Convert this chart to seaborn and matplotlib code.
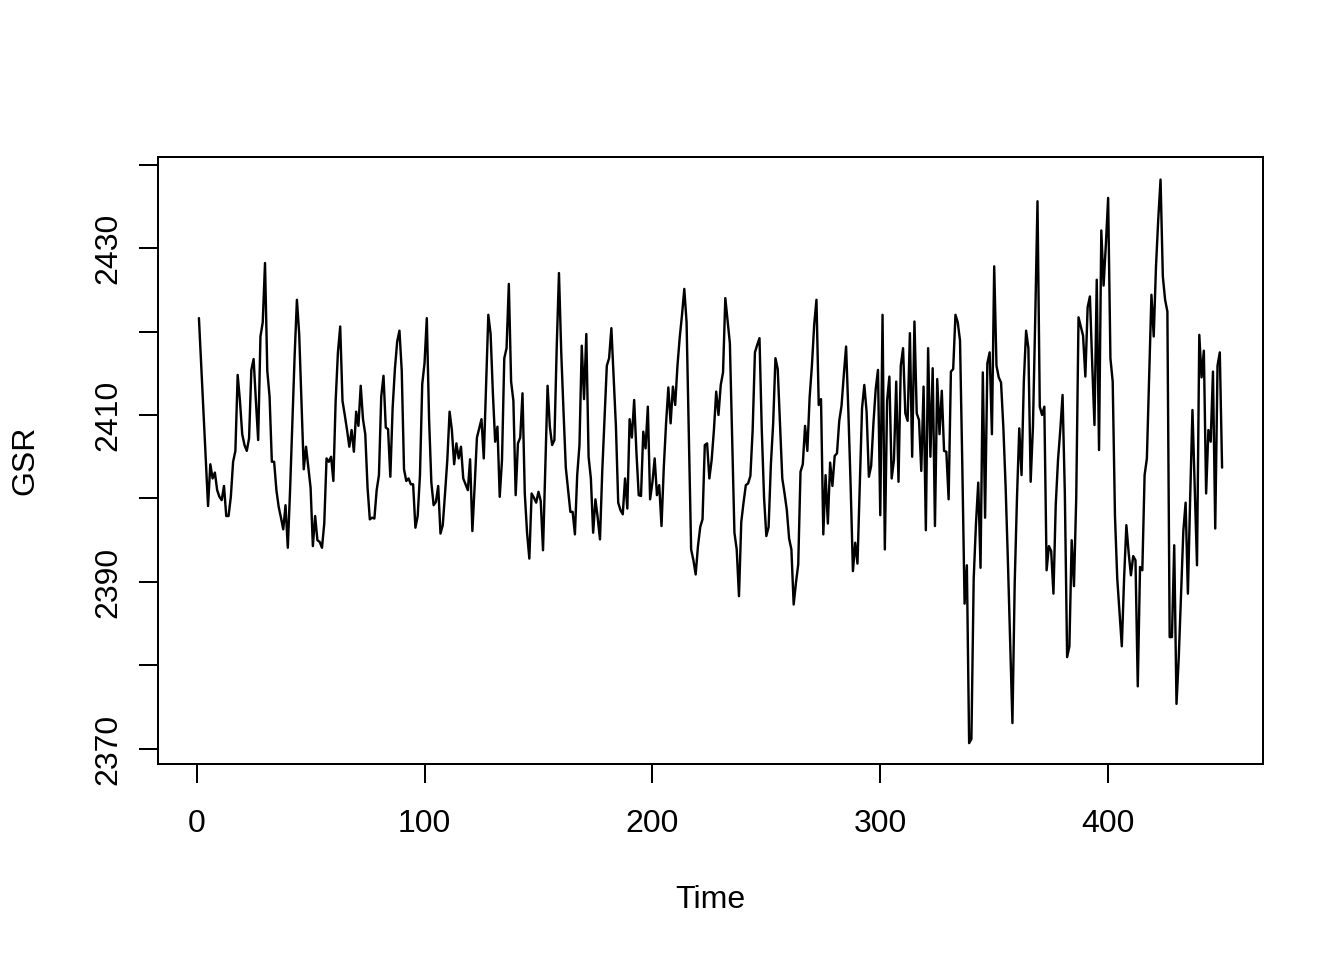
import numpy as np
import pandas as pd
import matplotlib
matplotlib.use("Agg")
import matplotlib.pyplot as plt
import seaborn as sns

# GSR readings, one per time step (t = 1..450)
gsr_1_75 = [
    2421.6, 2416.0, 2410.5, 2405.0, 2399.1, 2404.1, 2402.4, 2403.1, 2401.0, 2400.2,
    2399.8, 2401.5, 2397.9, 2397.9, 2400.2, 2404.4, 2405.7, 2414.8, 2411.7, 2407.7,
    2406.4, 2405.7, 2407.2, 2415.4, 2416.7, 2411.7, 2407.0, 2419.4, 2421.1, 2428.2,
    2415.3, 2412.2, 2404.4, 2404.4, 2401.0, 2399.0, 2397.7, 2396.3, 2399.2, 2394.1,
    2401.0, 2409.0, 2417.1, 2423.8, 2419.7, 2411.7, 2403.5, 2406.2, 2403.7, 2401.3,
    2394.3, 2397.9, 2395.0, 2394.8, 2394.1, 2397.0, 2404.8, 2404.4, 2405.0, 2402.1,
    2411.7, 2417.5, 2420.6, 2411.7, 2410.0, 2408.2, 2406.2, 2408.2, 2405.6, 2410.4,
    2408.7, 2413.5, 2409.5, 2407.7, 2401.3,
]
gsr_76_150 = [
    2397.5, 2397.7, 2397.6, 2401.0, 2402.8, 2412.2, 2414.7, 2408.5, 2408.3, 2402.6,
    2410.8, 2415.5, 2418.8, 2420.1, 2415.3, 2403.5, 2402.1, 2402.4, 2401.7, 2401.7,
    2396.5, 2397.9, 2402.8, 2413.7, 2416.2, 2421.6, 2409.5, 2401.9, 2399.2, 2399.6,
    2401.5, 2395.8, 2396.8, 2400.6, 2404.6, 2410.4, 2408.2, 2404.1, 2406.6, 2404.8,
    2406.2, 2402.4, 2401.7, 2401.0, 2404.7, 2396.1, 2401.5, 2407.3, 2408.4, 2409.5,
    2404.8, 2413.5, 2422.0, 2419.7, 2412.6, 2406.8, 2408.6, 2400.2, 2404.6, 2416.8,
    2418.0, 2425.7, 2414.0, 2411.7, 2400.4, 2406.6, 2407.3, 2412.6, 2400.6, 2395.9,
    2392.8, 2400.6, 2400.1, 2399.5, 2400.8,
]
gsr_151_225 = [
    2399.7, 2393.8, 2403.7, 2413.5, 2408.6, 2406.4, 2407.0, 2418.0, 2427.0, 2417.5,
    2410.4, 2403.7, 2401.0, 2398.4, 2398.4, 2395.7, 2402.8, 2406.4, 2418.3, 2411.9,
    2419.7, 2405.0, 2402.4, 2395.9, 2399.9, 2397.7, 2395.1, 2403.3, 2409.5, 2415.9,
    2416.8, 2420.4, 2414.4, 2408.6, 2399.5, 2398.6, 2398.1, 2402.4, 2398.8, 2409.5,
    2407.3, 2411.8, 2405.5, 2400.4, 2400.3, 2408.0, 2406.0, 2411.0, 2399.9, 2401.9,
    2404.8, 2400.4, 2401.6, 2396.7, 2403.7, 2409.0, 2413.3, 2409.0, 2413.4, 2411.2,
    2415.9, 2419.3, 2422.0, 2425.1, 2421.1, 2407.3, 2393.9, 2392.6, 2390.9, 2394.3,
    2396.6, 2397.5, 2406.4, 2406.6, 2402.4,
]
gsr_226_300 = [
    2404.6, 2408.2, 2412.8, 2410.0, 2413.6, 2415.1, 2424.0, 2421.3, 2418.6, 2407.3,
    2395.9, 2393.9, 2388.3, 2397.2, 2399.5, 2401.6, 2401.8, 2402.7, 2408.2, 2417.5,
    2418.4, 2419.2, 2408.2, 2400.1, 2395.5, 2396.6, 2404.1, 2409.0, 2416.8, 2415.5,
    2409.0, 2402.4, 2400.6, 2398.6, 2395.2, 2393.9, 2387.3, 2389.9, 2392.1, 2403.2,
    2404.1, 2408.7, 2405.7, 2412.1, 2415.9, 2420.8, 2423.8, 2411.2, 2411.9, 2395.7,
    2402.8, 2397.0, 2404.3, 2401.5, 2405.1, 2405.4, 2409.3, 2411.1, 2414.8, 2418.2,
    2410.4, 2401.5, 2391.3, 2394.7, 2392.2, 2401.5, 2410.8, 2413.6, 2410.4, 2402.6,
    2403.9, 2409.0, 2413.1, 2415.4, 2398.0,
]
gsr_301_375 = [
    2422.0, 2393.9, 2411.7, 2414.6, 2402.4, 2404.6, 2414.0, 2402.0, 2415.9, 2418.0,
    2410.2, 2409.3, 2419.8, 2405.0, 2421.2, 2410.2, 2409.4, 2403.3, 2413.4, 2396.2,
    2418.0, 2405.0, 2415.6, 2396.7, 2414.3, 2407.7, 2412.9, 2405.7, 2405.6, 2399.9,
    2415.2, 2415.5, 2422.0, 2421.1, 2418.9, 2404.0, 2387.4, 2392.0, 2370.7, 2371.2,
    2390.4, 2397.0, 2401.9, 2391.7, 2415.1, 2397.7, 2416.2, 2417.5, 2407.7, 2427.8,
    2415.9, 2414.5, 2413.9, 2408.6, 2401.5, 2392.6, 2382.8, 2373.1, 2389.9, 2400.1,
    2408.4, 2402.8, 2414.0, 2420.1, 2418.0, 2402.0, 2408.6, 2421.5, 2435.6, 2411.0,
    2410.0, 2411.0, 2391.4, 2394.3, 2393.7,
]
gsr_376_450 = [
    2388.6, 2399.2, 2404.6, 2408.2, 2412.4, 2400.6, 2381.0, 2382.3, 2395.0, 2389.5,
    2400.1, 2421.7, 2420.6, 2419.5, 2414.6, 2422.9, 2424.2, 2416.2, 2408.8, 2426.2,
    2405.8, 2432.1, 2425.5, 2430.4, 2436.0, 2416.8, 2414.0, 2397.9, 2390.4, 2386.3,
    2382.3, 2390.4, 2396.8, 2393.5, 2390.8, 2393.1, 2392.6, 2377.5, 2391.8, 2391.4,
    2402.8, 2404.8, 2414.4, 2424.4, 2419.4, 2427.8, 2433.5, 2438.2, 2426.6, 2423.8,
    2422.4, 2383.4, 2383.4, 2394.4, 2375.4, 2381.0, 2388.6, 2396.1, 2399.5, 2388.6,
    2400.1, 2410.6, 2401.5, 2392.0, 2419.6, 2414.5, 2417.7, 2400.6, 2408.2, 2406.8,
    2415.2, 2396.4, 2415.9, 2417.5, 2403.7,
]

gsr = gsr_1_75 + gsr_76_150 + gsr_151_225 + gsr_226_300 + gsr_301_375 + gsr_376_450
time = list(range(1, len(gsr) + 1))

x_ticks = [0, 100, 200, 300, 400]
y_ticks = [2370, 2380, 2390, 2400, 2410, 2420, 2430, 2440]
y_tick_labels = ["2370", "", "2390", "", "2410", "", "2430", ""]

df = pd.DataFrame({"Time": time, "GSR": gsr})

sns.set_style("ticks")
plt.rcParams["font.family"] = ["Liberation Sans", "DejaVu Sans"]

fig = plt.figure(figsize=(7, 5), dpi=192)
ax = fig.add_axes([158 / 1344, 1 - 764 / 960, (1263 - 158) / 1344, (764 - 157) / 960])

sns.lineplot(data=df, x="Time", y="GSR", color="black", linewidth=0.9, ax=ax)

# R style extended limits (4 percent padding)
n = len(gsr)
pad_x = (n - 1) * 0.04
ax.set_xlim(1 - pad_x, n + pad_x)
ax.set_ylim(2368.2, 2440.9)

ax.set_xticks(x_ticks)
ax.set_xticklabels([str(t) for t in x_ticks])
ax.set_yticks(y_ticks)
ax.set_yticklabels(y_tick_labels, rotation=90, va="center")

ax.tick_params(axis="both", direction="out", length=7, width=0.75,
               color="black", labelsize=12, labelcolor="black")
ax.tick_params(axis="x", pad=10)
ax.tick_params(axis="y", pad=6)
for s in ax.spines.values():
    s.set_visible(True)
    s.set_linewidth(0.75)
    s.set_color("black")

ax.set_xlabel("")
ax.set_ylabel("")
fig.text((158 + 1263) / 2 / 1344, 1 - 900 / 960, "Time", ha="center", va="center",
         fontsize=12, color="black")
fig.text(25 / 1344, 1 - 460 / 960, "GSR", ha="center", va="center", rotation=90,
         fontsize=12, color="black")

fig.savefig("out.png", dpi=192, facecolor="white")
